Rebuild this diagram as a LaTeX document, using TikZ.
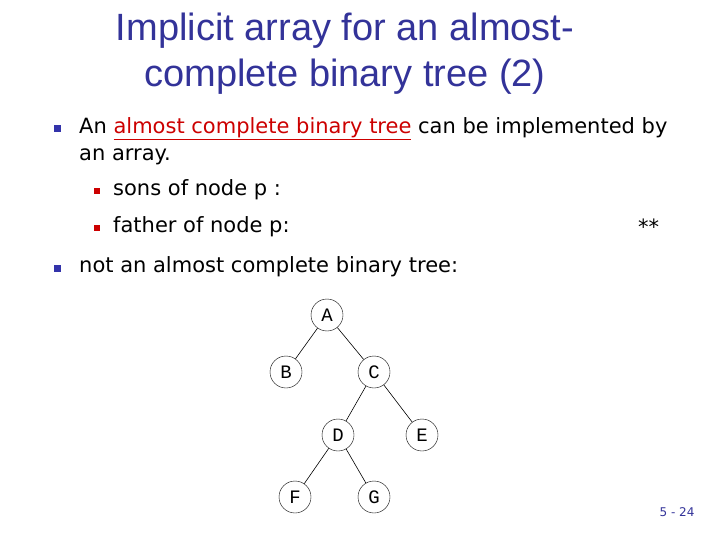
\documentclass[tikz,border=0pt]{standalone}
\usepackage{fontspec}
\setmainfont{DejaVu Sans}
\setmonofont{Liberation Mono}
\newfontfamily\titlefont{Liberation Sans}
\definecolor{tblue}{RGB}{51,51,153}
\definecolor{bblue}{RGB}{51,51,170}
\definecolor{rred}{RGB}{204,0,0}
\begin{document}
\begin{tikzpicture}[x=1pt,y=-1pt,
  txt/.style={anchor=west,inner sep=0pt,font=\fontsize{21}{25}\selectfont},
  bul/.style={fill=bblue,minimum size=7pt,inner sep=0pt},
  sbul/.style={fill=rred,minimum size=6pt,inner sep=0pt},
  tn/.style={circle,draw,minimum size=32pt,inner sep=0pt,font=\ttfamily\fontsize{19}{19}\selectfont},
  edge/.style={draw,line width=0.6pt}]
\useasboundingbox (0,0) rectangle (720,540);
\node[tblue,font=\titlefont\fontsize{38}{46}\selectfont,align=center] (title) at (345,54) {Implicit array for an almost-\\complete binary tree (2)};
\node[bul] (b1) at (57,129) {};
\node[txt] (t1) at (79,129) {An \textcolor{rred}{\underline{almost complete binary tree}} can be implemented by};
\node[txt] (t1b) at (79,157) {an array.};
\node[sbul] (s1) at (97,191) {};
\node[txt] (t2) at (113,190) {sons of node p :};
\node[sbul] (s2) at (97,228) {};
\node[txt] (t3) at (113,227) {father of node p:};
\node[txt] (st) at (638,227) {**};
\node[bul] (b2) at (57,268) {};
\node[txt] (t4) at (79,267) {not an almost complete binary tree:};
\node[tn] (A) at (327,315) {A};
\node[tn] (B) at (286,372) {B};
\node[tn] (C) at (374,372) {C};
\node[tn] (D) at (338,435) {D};
\node[tn] (E) at (422,435) {E};
\node[tn] (F) at (295,497) {F};
\node[tn] (G) at (374,497) {G};
\draw[edge] (A)--(B); \draw[edge] (A)--(C);
\draw[edge] (C)--(D); \draw[edge] (C)--(E);
\draw[edge] (D)--(F); \draw[edge] (D)--(G);
\node[tblue,font=\fontsize{12}{14}\selectfont] (pg) at (677,512) {5 - 24};
\end{tikzpicture}
\end{document}
